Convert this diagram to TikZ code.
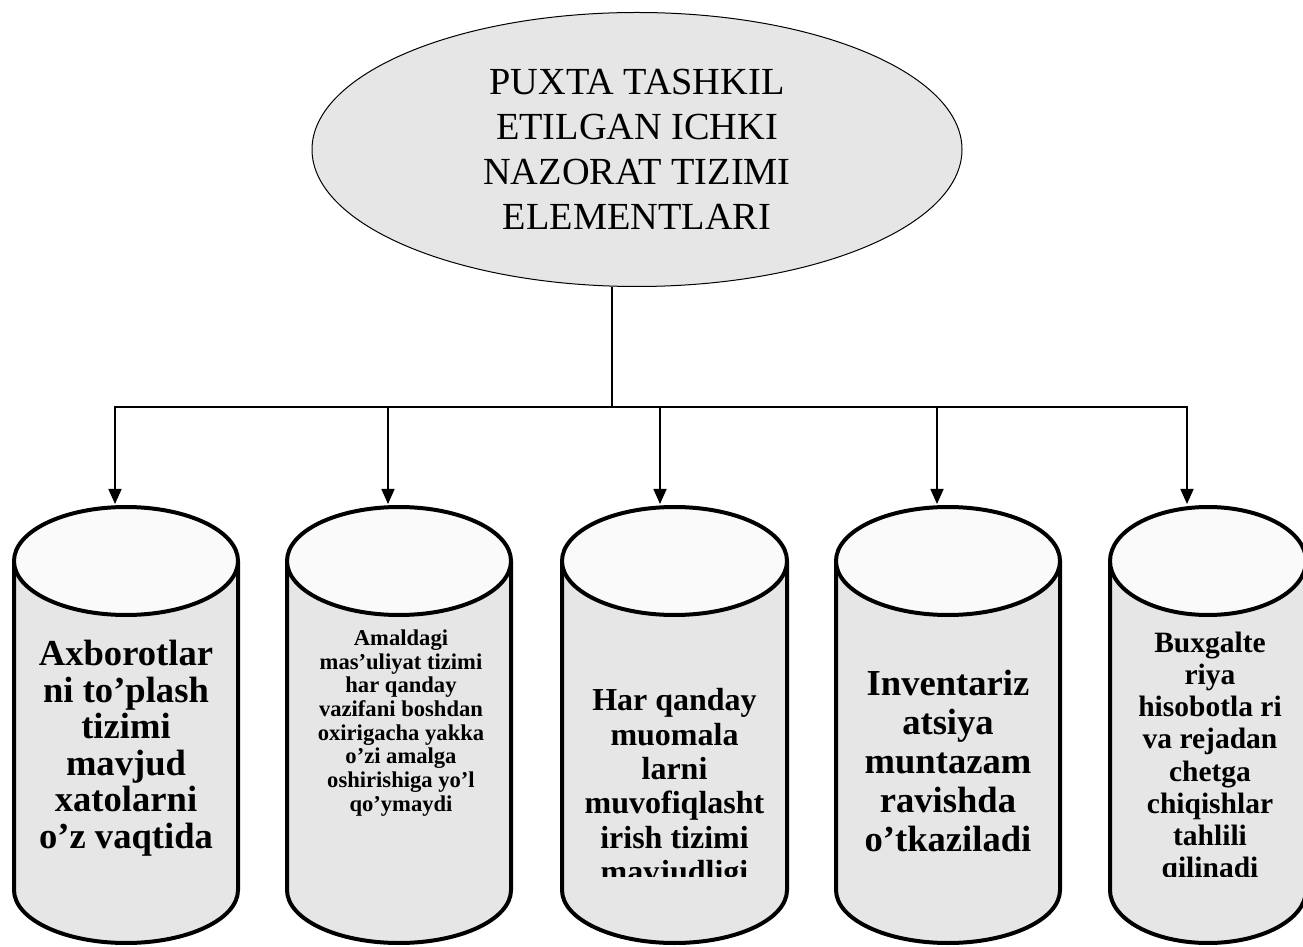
\documentclass[tikz,border=0pt]{standalone}
\usepackage{fontspec}
\setmainfont{Liberation Serif}
\usetikzlibrary{arrows.meta,shapes.geometric}
\definecolor{bodygray}{RGB}{230,230,230}
\definecolor{topwhite}{RGB}{250,250,250}
\newcommand\cylfont[2]{\fontsize{#1pt}{#2pt}\selectfont\bfseries}
\begin{document}
\begin{tikzpicture}[x=1pt,y=1pt,
  cylline/.style={line width=4pt,draw=black,line join=round},
  conn/.style={line width=1.6pt,draw=black},
  arr/.style={conn,-{Triangle[length=15pt,width=13pt]}},
  cyltext/.style={anchor=north,align=center,inner sep=0pt,text=black},
  headnode/.style={ellipse,draw=black,line width=1pt,fill=bodygray,
    minimum width=650pt,minimum height=274pt,inner sep=0pt,align=center,
    font=\fontsize{38.3pt}{45pt}\selectfont}]
\useasboundingbox (0,0) rectangle (1303,946);
\fill[white] (0,0) rectangle (1303,946);

% cylinders
\foreach \cx/\rx in {126/112,399/112,674.5/112.5,948/112,1208/98}{
  \fill[bodygray] (\cx-\rx,385) -- (\cx-\rx,56)
     arc[start angle=180,end angle=360,x radius={\rx*1pt},y radius=53pt]
     -- (\cx+\rx,385) -- cycle;
  \draw[cylline] (\cx-\rx,385) -- (\cx-\rx,56)
     arc[start angle=180,end angle=360,x radius={\rx*1pt},y radius=53pt]
     -- (\cx+\rx,385);
  \filldraw[cylline,fill=topwhite] (\cx,385) ellipse[x radius={\rx*1pt},y radius=54pt];
}

% head ellipse
\node[headnode] (top) at (637,796.5) {PUXTA TASHKIL\\ETILGAN ICHKI\\NAZORAT TIZIMI\\ELEMENTLARI};

% texts (north = first baseline + ascender)
\node[cyltext,font={\cylfont{36.6}{36.6}}] (c1) at (126,306)
  {\vphantom{l}Axborotlar\\ni to’plash\\tizimi\\mavjud\\xatolarni\\o’z vaqtida};
\node[cyltext,font={\cylfont{22.6}{23.7}}] (c2) at (401,316.5)
  {\vphantom{l}Amaldagi\\mas’uliyat tizimi\\har qanday\\vazifani boshdan\\oxirigacha yakka\\o’zi amalga\\oshirishiga yo’l\\qo’ymaydi};
\node[cyltext,font={\cylfont{36.6}{39}}] (c4) at (948,276)
  {\vphantom{l}Inventariz\\atsiya\\muntazam\\ravishda\\o’tkaziladi};
\begin{scope}
  \clip (0,70) rectangle (1303,946);
  \node[cyltext,font={\cylfont{32}{34.4}}] (c3) at (674.5,257.7)
    {\vphantom{l}Har qanday\\muomala\\larni\\muvofiqlasht\\irish tizimi\\mavjudligi};
  \node[cyltext,font={\cylfont{29.5}{32.1}}] (c5) at (1210,314)
    {\vphantom{l}Buxgalte\\riya\\hisobotla ri\\va rejadan\\chetga\\chiqishlar\\tahlili\\qilinadi};
\end{scope}

% connectors
\coordinate (hub) at (612,539);
\coordinate (h1) at (115,539);
\coordinate (h2) at (388,539);
\coordinate (h3) at (660,539);
\coordinate (h4) at (937,539);
\coordinate (h5) at (1187,539);
\coordinate (t1) at (115,442);
\coordinate (t2) at (388,442);
\coordinate (t3) at (660,442);
\coordinate (t4) at (937,442);
\coordinate (t5) at (1187,442);
\draw[conn] (top.south -| hub) -- (hub);
\draw[conn,line cap=rect] (h1) -- (h5);
\foreach \i in {1,...,5}{
  \draw[arr] (h\i) -- (t\i);
}
\end{tikzpicture}
\end{document}
